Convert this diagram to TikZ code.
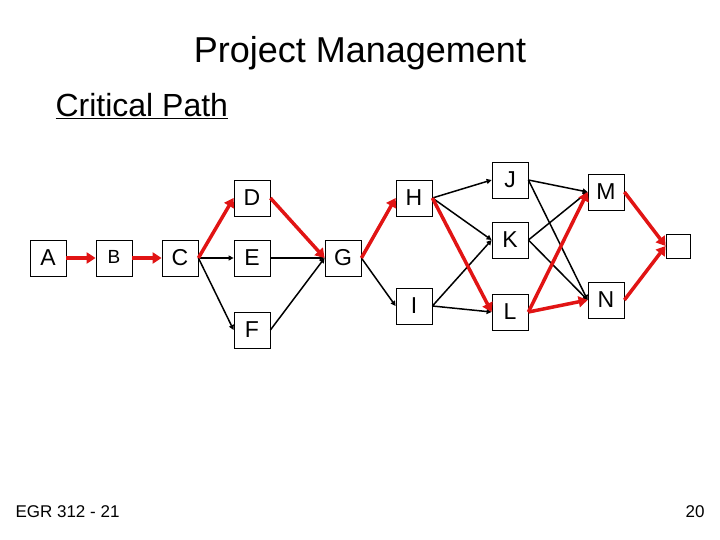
\documentclass[tikz,border=0pt]{standalone}
\usepackage{fontspec}
\setmainfont{Liberation Sans}
\usetikzlibrary{arrows.meta}
\begin{document}
\begin{tikzpicture}[x=1pt,y=-1pt,
  box/.style={draw,line width=0.8pt,minimum width=36pt,minimum height=36pt,inner sep=0pt,font=\fontsize{23}{25}\selectfont},
  crit/.style={draw={rgb,255:red,225;green,20;blue,20},line width=3.5pt,-{Triangle[length=9pt,width=11pt]}},
  norm/.style={draw,line width=1.5pt,-{Triangle[length=5pt,width=5pt]}}]
\useasboundingbox (0,0) rectangle (720,540);
\node[font=\fontsize{36}{40}\selectfont] (title) at (360,53) {Project Management};
\node[font=\fontsize{32}{36}\selectfont,anchor=west] (sub) at (52,106) {\underline{Critical Path}};
\node[font=\fontsize{17}{20}\selectfont,anchor=west] (foot) at (12,512) {EGR 312 - 21};
\node[font=\fontsize{17}{20}\selectfont,anchor=east] (pg) at (708,512) {20};
\node[box] (A) at (48,258) {A};
\node[box,font=\fontsize{19}{21}\selectfont] (B) at (114,258) {\raisebox{3pt}{B}};
\node[box] (C) at (180,258) {C};
\node[box] (D) at (252,198) {D};
\node[box] (E) at (252,258) {E};
\node[box] (F) at (252,330) {F};
\node[box] (G) at (343,258) {G};
\node[box] (H) at (414,198) {H};
\node[box] (I) at (414,306) {I};
\node[box] (J) at (510,180) {J};
\node[box] (K) at (510,240) {K};
\node[box] (L) at (510,312) {L};
\node[box] (M) at (606,192) {M};
\node[box] (N) at (606,300) {N};
\node[box,minimum width=24pt,minimum height=24pt] (Z) at (678,246) {};
\draw[norm] (C.east) -- (E.west);
\draw[norm] (C.east) -- (F.west);
\draw[norm] (E.east) -- (G.west);
\draw[norm] (F.east) -- (G.west);
\draw[norm] (G.east) -- (I.west);
\draw[norm] (H.east) -- (J.west);
\draw[norm] (H.east) -- (K.west);
\draw[norm] (I.east) -- (K.west);
\draw[norm] (I.east) -- (L.west);
\draw[norm] (J.east) -- (M.west);
\draw[norm] (J.east) -- (N.west);
\draw[norm] (K.east) -- (M.west);
\draw[norm] (K.east) -- (N.west);
\draw[crit] (A.east) -- (B.west);
\draw[crit] (B.east) -- (C.west);
\draw[crit] (C.east) -- (D.west);
\draw[crit] (D.east) -- (G.west);
\draw[crit] (G.east) -- (H.west);
\draw[crit] (H.east) -- (L.west);
\draw[crit] (L.east) -- (M.west);
\draw[crit] (L.east) -- (N.west);
\draw[crit] (M.east) -- (Z.west);
\draw[crit] (N.east) -- (Z.west);
\end{tikzpicture}
\end{document}
